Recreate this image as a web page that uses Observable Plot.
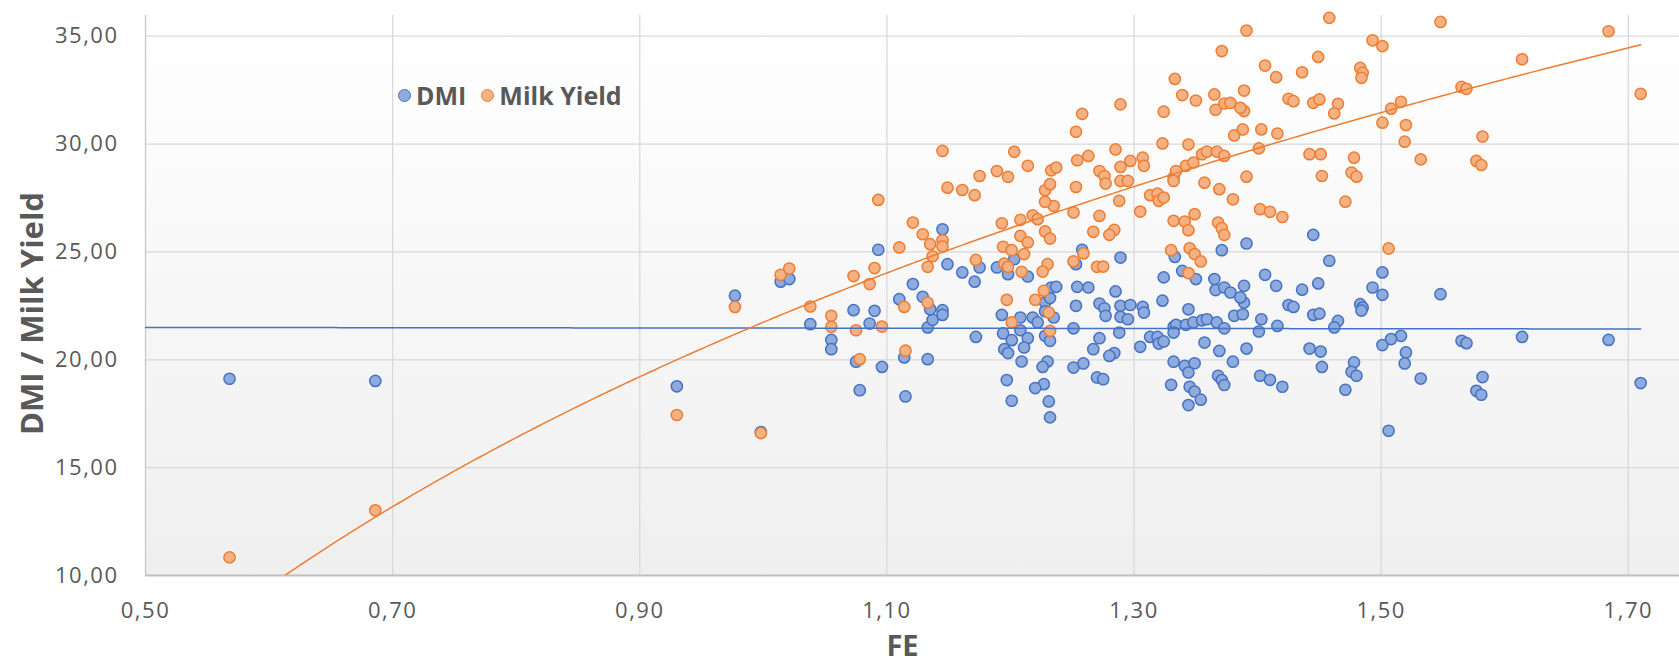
<!DOCTYPE html>
<html>
<head>
<meta charset="utf-8">
<script src="https://cdn.jsdelivr.net/npm/d3@7"></script>
<script src="https://cdn.jsdelivr.net/npm/@observablehq/plot@0.6"></script>
<style>
  body { margin: 0; background: #ffffff; }
  #wrap { position: relative; width: 1679px; height: 664px; font-family: "Open Sans", sans-serif; }
  #legend { position: absolute; left: 398px; top: 78px; display: flex; align-items: center;
            font: bold 25px "Open Sans", sans-serif; color: #595959; white-space: nowrap; }
  #legend .sw { display: inline-block; width: 13px; height: 13px; border-radius: 50%; box-sizing: border-box; border: 1.5px solid; }
  #chart svg [aria-label="x-axis tick label"] text,
  #chart svg [aria-label="y-axis tick label"] text { letter-spacing: 1.5px; }
</style>
</head>
<body>
<div id="wrap">
  <div id="chart"></div>
  <div id="legend">
    <span class="sw" style="background:#8faadc;border-color:#4472c4"></span>
    <span style="margin-left:5px">DMI</span>
    <span class="sw" style="background:#f4b183;border-color:#ed7d31;margin-left:15px"></span>
    <span style="margin-left:5px">Milk Yield</span>
  </div>
</div>
<script>
// FE (x), with the matching DMI and Milk Yield readings (null = outside the visible range)
const fe = [
  0.568,0.686,0.930,0.998,0.977,1.014,1.021,1.038,1.055,1.055,
  1.073,1.090,1.086,1.075,1.096,1.078,1.114,1.115,1.133,1.133,
  1.137,1.135,1.145,1.145,1.172,1.193,1.194,1.201,1.208,1.208,
  1.214,1.211,1.195,1.198,1.209,1.197,1.201,1.218,1.222,1.228,
  1.228,1.232,1.230,1.226,1.227,1.220,1.231,1.232,1.235,1.228,
  1.145,1.093,1.149,1.161,1.175,1.171,1.189,1.198,1.203,1.214,
  1.121,1.110,1.129,1.232,1.233,1.237,1.254,1.263,1.285,1.323,
  1.253,1.272,1.276,1.277,1.289,1.297,1.307,1.308,1.289,1.295,
  1.344,1.389,1.381,1.388,1.425,1.429,1.445,1.450,1.483,1.485,
  1.484,1.465,1.462,1.403,1.416,1.401,1.251,1.272,1.267,1.284,
  1.280,1.288,1.305,1.313,1.319,1.320,1.324,1.332,1.334,1.332,
  1.342,1.348,1.355,1.359,1.367,1.373,1.357,1.369,1.380,1.391,
  1.251,1.259,1.270,1.275,1.332,1.341,1.349,1.344,1.368,1.371,
  1.373,1.330,1.345,1.349,1.354,1.344,1.402,1.410,1.420,1.442,
  1.451,1.452,1.478,1.476,1.480,1.471,1.258,1.253,1.289,1.333,
  1.339,1.350,1.324,1.365,1.366,1.373,1.378,1.386,1.389,1.371,
  1.391,1.445,1.458,1.406,1.415,1.436,1.449,1.493,1.501,1.501,
  1.501,1.548,1.684,1.614,1.565,1.569,1.516,1.508,1.520,1.519,
  1.582,1.710,1.532,1.577,1.581,1.506
];
const dmi = [
  19.12,19.02,18.77,16.65,22.97,23.62,23.74,21.65,20.92,20.49,
  22.30,22.27,21.68,19.91,19.67,18.59,20.11,18.30,20.03,21.50,
  21.85,22.34,22.30,22.08,21.06,22.08,21.22,20.91,21.96,21.37,
  21.00,20.57,20.49,20.31,19.92,19.06,18.10,21.96,21.73,22.65,
  21.11,20.88,19.92,19.67,18.87,18.69,18.07,17.33,21.96,22.25,
  26.05,25.10,24.43,24.05,24.28,23.62,24.28,23.97,24.66,23.86,
  23.51,22.81,22.92,22.86,23.35,23.38,23.38,23.35,23.17,22.74,
  22.50,22.61,22.39,22.04,22.50,22.54,22.45,22.19,21.99,21.88,
  22.34,22.65,22.04,22.11,22.54,22.45,22.08,22.14,22.58,22.42,
  22.28,21.80,21.50,21.88,21.57,21.31,21.46,21.00,20.49,20.31,
  20.18,21.26,20.60,21.06,21.06,20.75,20.85,21.53,21.62,21.26,
  21.62,21.73,21.83,21.88,21.73,21.46,20.80,20.41,19.91,20.52,
  19.64,19.83,19.18,19.10,19.91,19.72,19.84,19.41,19.26,19.06,
  18.83,18.84,18.75,18.53,18.15,17.90,19.26,19.07,18.75,20.52,
  20.38,19.67,19.88,19.44,19.26,18.61,25.10,24.43,24.74,24.77,
  24.12,23.74,23.82,23.74,23.23,23.35,23.12,22.89,23.43,25.08,
  25.39,25.79,24.59,23.94,23.43,23.25,23.54,23.35,23.01,20.68,
  24.05,23.04,20.92,21.06,20.88,20.77,21.11,20.96,20.34,19.83,
  19.20,18.92,19.13,18.56,18.38,16.71
];
const milkYield = [
  10.84,13.02,17.44,16.60,22.45,23.94,24.23,22.47,22.04,21.53,
  23.88,24.25,23.51,21.37,21.54,20.03,22.45,20.42,22.65,24.31,
  24.80,25.36,25.54,25.25,24.63,26.33,25.24,25.08,26.49,25.74,
  25.44,24.90,24.46,24.31,24.08,22.78,21.73,26.70,26.52,27.86,
  25.95,25.62,24.43,24.09,23.20,22.78,22.19,21.34,27.13,27.32,
  29.68,27.41,27.98,27.87,28.52,27.63,28.75,28.48,29.64,28.99,
  26.36,25.21,25.82,28.14,28.78,28.91,29.25,29.45,29.75,30.03,
  28.01,28.75,28.52,28.17,28.94,29.22,29.37,28.99,28.29,28.29,
  29.98,31.53,30.40,30.68,32.10,31.99,31.91,32.07,33.53,33.30,
  33.07,31.87,31.42,30.68,30.49,29.80,26.83,26.67,25.93,26.02,
  25.79,27.37,26.87,27.63,27.70,27.37,27.52,28.45,28.75,28.29,
  28.99,29.14,29.53,29.65,29.65,29.45,28.21,27.91,27.44,28.49,
  24.56,24.93,24.31,24.32,26.44,26.41,26.75,26.01,26.36,26.10,
  25.79,25.08,25.17,24.90,24.56,24.02,26.98,26.86,26.62,29.53,
  29.53,28.52,29.37,28.68,28.49,27.33,31.40,30.57,31.84,33.02,
  32.27,32.02,31.50,32.30,31.59,31.88,31.91,31.68,32.48,34.31,
  35.26,null,35.85,33.64,33.10,33.33,34.04,34.81,34.54,30.99,
  null,35.66,35.23,33.93,32.65,32.56,31.96,31.64,30.88,30.11,
  30.35,32.33,29.29,29.22,29.03,25.16
];
const xTicks = [0.5, 0.7, 0.9, 1.1, 1.3, 1.5, 1.7];
const yTicks = [10, 15, 20, 25, 30, 35];
const seriesNames = ["DMI", "Milk Yield"];
// trendline equations
const dmiTrendCoef = {intercept: 21.53, slope: -0.06};      // linear
const milkTrendCoef = {intercept: 21.74, slope: 23.97};     // logarithmic: a + b ln(FE)
const trendRange = [0.5, 1.71];

// tables
const dmiRows = fe.map((x, i) => ({x, y: dmi[i], s: seriesNames[0]})).filter(d => d.y != null);
const milkRows = fe.map((x, i) => ({x, y: milkYield[i], s: seriesNames[1]})).filter(d => d.y != null);

const samples = d3.range(0, 301).map(i => trendRange[0] + (trendRange[1] - trendRange[0]) * i / 300);
const dmiTrend = samples.map(x => ({x, y: dmiTrendCoef.intercept + dmiTrendCoef.slope * x}));
const milkTrend = samples.map(x => ({x, y: milkTrendCoef.intercept + milkTrendCoef.slope * Math.log(x)}));

const fmt = d => d.toFixed(2).replace(".", ",");

const chart = Plot.plot({
  width: 1679,
  height: 664,
  marginLeft: 145,
  marginRight: 0,
  marginTop: 15,
  marginBottom: 89,
  style: {fontFamily: "Open Sans, sans-serif", color: "#595959", background: "transparent"},
  x: {domain: [0.5, 1.7414], ticks: xTicks},
  y: {domain: [10, 35.96], ticks: yTicks},
  marks: [
    Plot.frame({fill: "#f6f6f6", stroke: null}),
    Plot.gridX(xTicks.slice(1), {stroke: "#d9d9d9", strokeOpacity: 1, strokeWidth: 1.3}),
    Plot.gridY(yTicks.slice(1), {stroke: "#d9d9d9", strokeOpacity: 1, strokeWidth: 1.3}),
    Plot.ruleX([0.5], {stroke: "#c8c8c8", strokeWidth: 1.3}),
    Plot.ruleY([10], {stroke: "#bfbfbf", strokeWidth: 2}),
    Plot.axisX(xTicks, {tickSize: 0, tickPadding: 27, fontSize: 22, tickFormat: fmt, label: null}),
    Plot.axisY(yTicks, {tickSize: 0, tickPadding: 27, fontSize: 22, tickFormat: fmt, label: null}),
    Plot.dot(dmiRows, {x: "x", y: "y", r: 5.6, fill: "#8faadc", stroke: "#4472c4", strokeWidth: 1.5}),
    Plot.dot(milkRows, {x: "x", y: "y", r: 5.6, fill: "#f4b183", stroke: "#ed7d31", strokeWidth: 1.5}),
    Plot.line(dmiTrend, {x: "x", y: "y", stroke: "#4472c4", strokeWidth: 1.5, clip: true}),
    Plot.line(milkTrend, {x: "x", y: "y", stroke: "#ed7d31", strokeWidth: 1.5, clip: true}),
    Plot.text(["FE"], {frameAnchor: "bottom", dx: -10, dy: 71, lineAnchor: "middle",
      fontSize: 29, fontWeight: "bold", fill: "#595959"}),
    Plot.text(["DMI / Milk Yield"], {frameAnchor: "left", dx: -112, dy: 18, rotate: -90,
      lineAnchor: "middle", textAnchor: "middle", fontSize: 31, fontWeight: "bold", fill: "#595959"})
  ]
});
document.getElementById("chart").appendChild(chart);

// vertical white-to-grey gradient in the plot area
const svg = d3.select(chart);
const defs = svg.insert("defs", ":first-child");
const grad = defs.append("linearGradient").attr("id", "bgGrad")
  .attr("x1", 0).attr("y1", 0).attr("x2", 0).attr("y2", 1);
grad.append("stop").attr("offset", "0%").attr("stop-color", "#ffffff");
grad.append("stop").attr("offset", "100%").attr("stop-color", "#efefef");
const fr = svg.select('[aria-label="frame"]');
if (!fr.empty()) {
  const rect = fr.node().tagName.toLowerCase() === "rect" ? fr : fr.select("rect");
  rect.attr("fill", "url(#bgGrad)");
}
</script>
</body>
</html>
